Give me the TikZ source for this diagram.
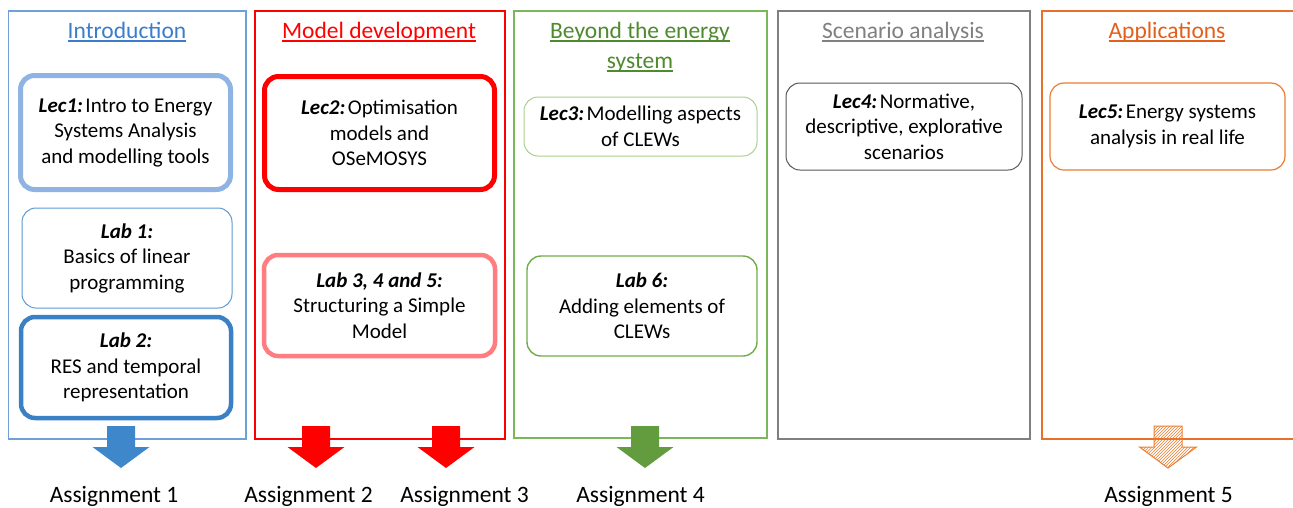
\documentclass[tikz,border=0pt]{standalone}
\usepackage{fontspec}
\setmainfont{Carlito}
\usetikzlibrary{patterns}
\newsavebox{\hulbox}
\newcommand{\hul}[1]{\sbox{\hulbox}{#1}\rlap{\rule[-3.6pt]{\wd\hulbox}{1.2pt}}\usebox{\hulbox}}
\newcommand{\bxfont}{\fontsize{21}{25.5}\selectfont}
\newcommand{\hdfont}{\fontsize{23.5}{30}\selectfont}
\newcommand{\lb}[1]{\textbf{\textit{#1}}\hspace{2.5pt}\ignorespaces}
\definecolor{introC}{HTML}{3C7DCB}
\definecolor{colA}{HTML}{6FA0D8}
\definecolor{lecA}{HTML}{8FB4E3}
\definecolor{labA}{HTML}{5B9BD5}
\definecolor{labB}{HTML}{3A80C4}
\definecolor{arrA}{HTML}{3F87CB}
\definecolor{redC}{HTML}{FF0000}
\definecolor{labR}{HTML}{FF7C80}
\definecolor{greenC}{HTML}{4E8A2E}
\definecolor{colG}{HTML}{7AB65A}
\definecolor{lecG}{HTML}{A9D18E}
\definecolor{labG}{HTML}{70AD47}
\definecolor{arrG}{HTML}{629C3E}
\definecolor{grayC}{HTML}{808080}
\definecolor{colGr}{HTML}{7F7F7F}
\definecolor{lecGr}{HTML}{595959}
\definecolor{orC}{HTML}{E2601C}
\definecolor{colO}{HTML}{E8702A}
\definecolor{lecO}{HTML}{ED7D31}
\begin{document}
\begin{tikzpicture}[x=1pt,y=-1pt,
  box/.style={rounded corners=14pt, align=center, font=\bxfont, inner sep=0pt, text=black},
  colbox/.style={inner sep=0pt, line width=1.1pt},
  hdr/.style={font=\hdfont, anchor=base, align=center, inner sep=0pt},
  asg/.style={font=\hdfont, anchor=base, inner sep=0pt, text=black},
  dnarrow/.pic={\path[pic actions] (-14,0) -- (14,0) -- (14,21) -- (28.5,21) -- (0,42) -- (-28.5,21) -- (-14,21) -- cycle;}
]
\useasboundingbox[fill=white] (0,0) rectangle (1293,507);

% columns
\node[colbox, draw=colA, minimum width=237.5pt, minimum height=428pt] (col1) at (127.25,225) {};
\node[colbox, draw=redC, minimum width=250pt, minimum height=428pt] (col2) at (380,225) {};
\node[colbox, draw=colG, minimum width=253pt, minimum height=427pt] (col3) at (640.5,224.5) {};
\node[colbox, draw=colGr, minimum width=252pt, minimum height=428pt] (col4) at (904,225) {};
\coordinate (c5tl) at (1042,11);
\coordinate (c5bl) at (1042,439);
\draw[colO, line width=1.3pt] (1300,11) -- (c5tl) -- (c5bl) -- (1300,439);

% headers
\node[hdr, text=introC] (h1) at (127,38) {\hul{Introduction}};
\node[hdr, text=redC] (h2) at (379,38) {\hul{Model development}};
\node[hdr, text=greenC] (h3) at (640,68) {\hul{Beyond the energy}\\\hul{system}};
\node[hdr, text=grayC] (h4) at (903,38) {\hul{Scenario analysis}};
\node[hdr, text=orC] (h5) at (1167,38) {\hul{Applications}};

% boxes
\node[box, draw=lecA, line width=5pt, minimum width=210pt, minimum height=114pt] (lec1) at (125.5,132.5)
  {\lb{Lec1:} Intro to Energy\\Systems Analysis\\and modelling tools};
\node[box, draw=labA, line width=1pt, minimum width=210pt, minimum height=100pt] (lab1) at (127,258)
  {\textbf{\textit{Lab 1:}}\\Basics of linear\\programming};
\node[box, draw=labB, line width=4.5pt, minimum width=210pt, minimum height=101pt] (lab2) at (126,367.5)
  {\textbf{\textit{Lab 2:}}\\RES and temporal\\representation};
\node[box, draw=redC, line width=5pt, minimum width=230pt, minimum height=113pt] (lec2) at (379.5,133)
  {\lb{Lec2:} Optimisation\\models and\\OSeMOSYS};
\node[box, draw=labR, line width=4.5pt, minimum width=231pt, minimum height=101pt] (lab345) at (379.5,305.5)
  {\textbf{\textit{Lab 3, 4 and 5:}}\\Structuring a Simple\\Model};
\node[box, draw=lecG, line width=1pt, minimum width=233pt, minimum height=59pt] (lec3) at (640.5,126.5)
  {\lb{Lec3:} Modelling aspects\\of CLEWs};
\node[box, draw=labG, line width=1.4pt, minimum width=230pt, minimum height=100pt] (lab6) at (642,306)
  {\textbf{\textit{Lab 6:}}\\Adding elements of\\CLEWs};
\node[box, draw=lecGr, line width=1pt, minimum width=236pt, minimum height=87pt] (lec4) at (904,126.5)
  {\lb{Lec4:} Normative,\\descriptive, explorative\\scenarios};
\node[box, draw=lecO, line width=1.2pt, minimum width=235pt, minimum height=87pt] (lec5) at (1167.5,126.5)
  {\lb{Lec5:} Energy systems\\analysis in real life};

% arrows
\pic[fill=arrA] (a1) at (121,426) {dnarrow};
\pic[fill=redC] (a2) at (316,426) {dnarrow};
\pic[fill=redC] (a3) at (446,426) {dnarrow};
\pic[fill=arrG] (a4) at (645,426) {dnarrow};
\pic[draw=lecO, line width=1pt, pattern=north east lines, pattern color=lecO] (a5) at (1168,426) {dnarrow};

% assignments
\node[asg] (s1) at (114,502) {Assignment 1};
\node[asg] (s2) at (308.5,502) {Assignment 2};
\node[asg] (s3) at (464.5,502) {Assignment 3};
\node[asg] (s4) at (640.5,502) {Assignment 4};
\node[asg] (s5) at (1168.5,502) {Assignment 5};
\end{tikzpicture}
\end{document}
